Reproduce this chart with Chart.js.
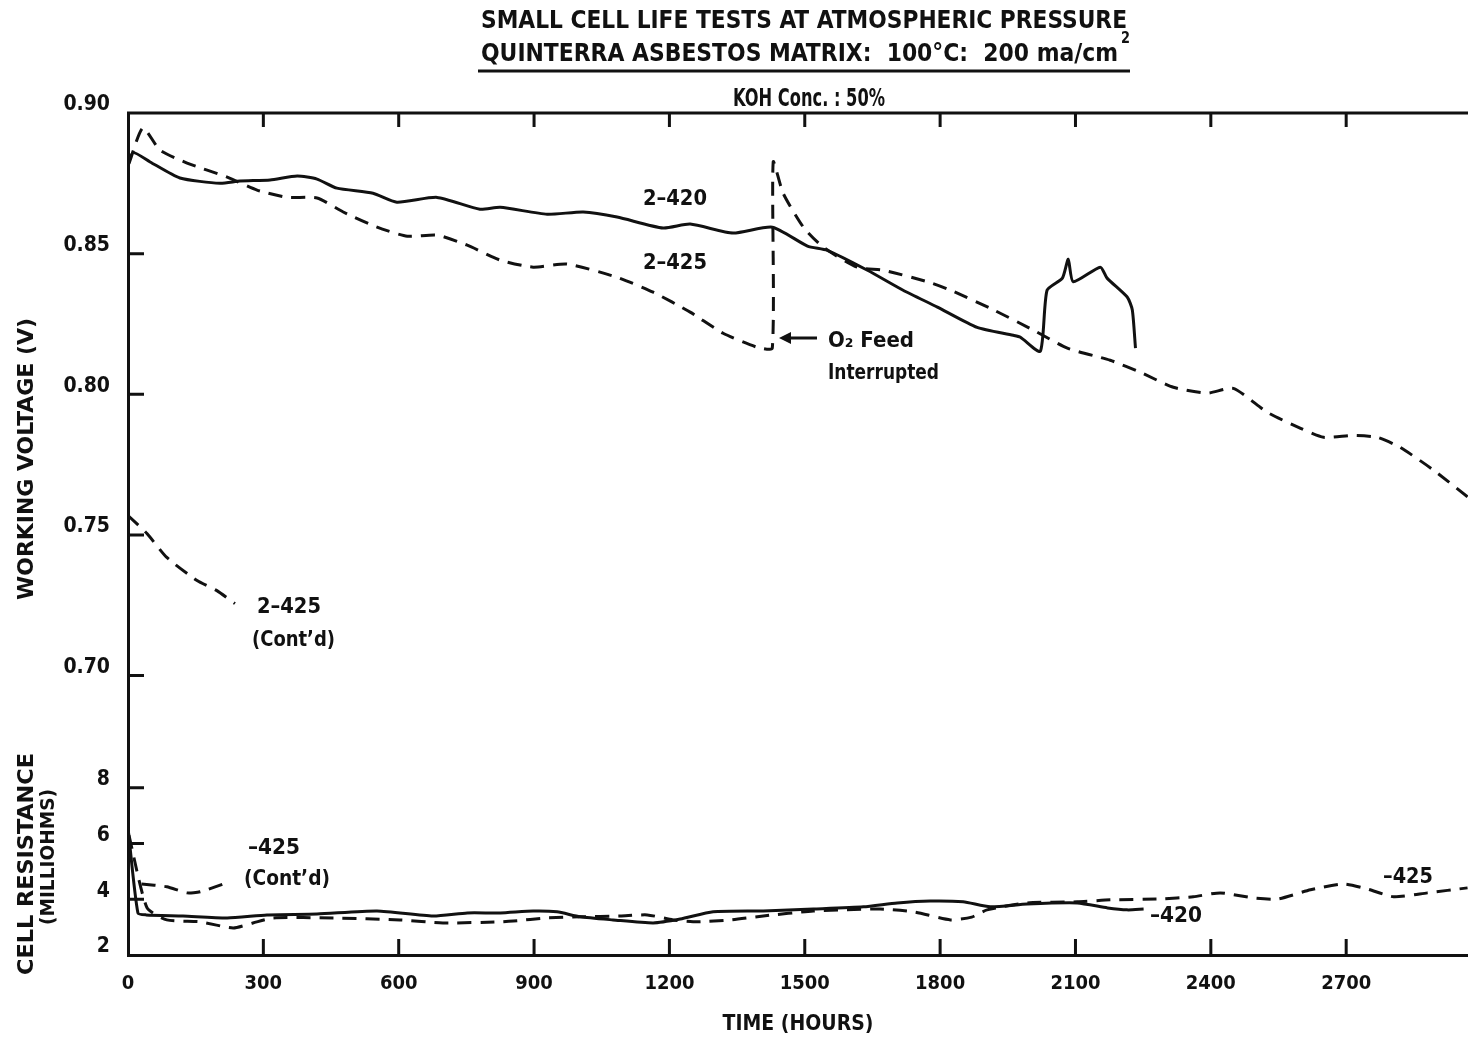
<!DOCTYPE html>
<html>
<head>
<meta charset="utf-8">
<title>Small cell life tests</title>
<script src="https://cdn.jsdelivr.net/npm/chart.js@4"></script>
<style>
  html, body { margin: 0; padding: 0; background: #fff; }
  canvas { display: block; }
</style>
</head>
<body>
<canvas id="lifeChart" width="1468" height="1041"></canvas>
<script>
const FONT = "'DejaVu Sans Condensed', 'Liberation Sans Narrow', 'DejaVu Sans', sans-serif";
const INK = "#111";

// tick labels
const hourTicks = [0, 300, 600, 900, 1200, 1500, 1800, 2100, 2400, 2700];
const voltTicks = [0.70, 0.75, 0.80, 0.85, 0.90];
const resTicks = [2, 4, 6, 8];

// 2-420 working voltage (solid)
const v420Hours = [0, 11, 49, 115, 204, 248, 315, 375, 419, 463, 543, 596, 685, 780, 825, 929, 1009, 1084, 1186, 1246, 1341, 1428, 1506, 1550, 1639, 1718, 1794, 1882, 1962, 1978, 2022, 2037, 2071, 2084, 2095, 2155, 2170, 2215, 2226, 2233];
const v420Volts = [0.8815, 0.886, 0.8826, 0.8769, 0.875, 0.8758, 0.8762, 0.8776, 0.8765, 0.8733, 0.8715, 0.8683, 0.870, 0.8658, 0.8665, 0.864, 0.8648, 0.863, 0.8591, 0.8605, 0.8573, 0.8594, 0.8527, 0.8512, 0.8441, 0.837, 0.831, 0.8238, 0.821, 0.8203, 0.8153, 0.837, 0.8413, 0.848, 0.840, 0.8452, 0.8413, 0.8345, 0.830, 0.8164];

// 2-425 working voltage (dashed)
const v425Hours = [2, 33, 71, 131, 220, 286, 353, 419, 477, 552, 619, 685, 752, 825, 898, 973, 1084, 1164, 1246, 1319, 1395, 1428, 1430, 1452, 1497, 1541, 1616, 1674, 1772, 1823, 1911, 2007, 2082, 2177, 2244, 2317, 2392, 2450, 2525, 2599, 2650, 2716, 2769, 2820, 2894, 2971];
const v425Volts = [0.882, 0.8947, 0.8868, 0.8822, 0.8772, 0.8726, 0.870, 0.8698, 0.8648, 0.8594, 0.8562, 0.8566, 0.853, 0.8477, 0.8452, 0.8463, 0.8416, 0.8363, 0.8292, 0.8217, 0.8167, 0.8164, 0.8826, 0.8715, 0.8594, 0.8523, 0.8452, 0.8441, 0.840, 0.837, 0.8306, 0.8228, 0.8164, 0.8121, 0.8078, 0.8025, 0.8004, 0.8021, 0.7936, 0.7879, 0.7847, 0.7854, 0.7847, 0.7811, 0.773, 0.7633];

// 2-425 continued, plotted from zero again
const v425bHours = [0, 42, 86, 153, 197, 237];
const v425bVolts = [0.7569, 0.7505, 0.742, 0.7338, 0.7302, 0.7256];

// cell resistance -420 (solid)
const r420Hours = [0, 22, 40, 122, 220, 308, 419, 552, 676, 752, 825, 898, 951, 1002, 1075, 1164, 1224, 1297, 1408, 1519, 1630, 1705, 1778, 1851, 1911, 1993, 2104, 2171, 2215, 2251];
const r420Ohms = [6.57, 3.51, 3.44, 3.40, 3.33, 3.44, 3.47, 3.58, 3.40, 3.51, 3.51, 3.58, 3.55, 3.37, 3.26, 3.15, 3.29, 3.55, 3.58, 3.65, 3.73, 3.87, 3.94, 3.91, 3.73, 3.83, 3.87, 3.69, 3.62, 3.65];

// cell resistance -425 (dashed)
const r425Hours = [2, 42, 86, 160, 233, 277, 322, 455, 603, 698, 825, 854, 929, 1002, 1091, 1151, 1208, 1262, 1335, 1408, 1519, 1667, 1741, 1823, 1870, 1904, 1993, 2104, 2177, 2288, 2361, 2421, 2494, 2548, 2621, 2694, 2747, 2805, 2880, 2969];
const r425Ohms = [6.3, 3.7, 3.26, 3.19, 2.97, 3.15, 3.33, 3.33, 3.26, 3.15, 3.19, 3.22, 3.33, 3.37, 3.40, 3.44, 3.26, 3.19, 3.26, 3.40, 3.58, 3.65, 3.55, 3.26, 3.36, 3.62, 3.87, 3.91, 3.98, 4.01, 4.09, 4.23, 4.05, 4.01, 4.34, 4.55, 4.37, 4.09, 4.23, 4.41];

// cell resistance -425 continued
const r425bHours = [30, 86, 131, 160, 226];
const r425bOhms = [4.55, 4.45, 4.23, 4.27, 4.63];

const toPoints = (xs, ys) => xs.map((h, i) => ({ x: h, y: ys[i] }));

function fitText(ctx, text, left, cy, width, size, angle) {
    ctx.save();
    ctx.font = `bold ${size}px ${FONT}`;
    const m = ctx.measureText(text).width;
    ctx.translate(left, cy);
    if (angle) ctx.rotate(angle);
    ctx.scale(width / m, 1);
    ctx.textAlign = "left";
    ctx.textBaseline = "alphabetic";
    ctx.fillText(text, 0, size * 0.365);
    ctx.restore();
}

/* titles, notes and inward tick marks */
const decorations = {
    id: "decorations",
    afterDraw(chart) {
        const { ctx, chartArea: a, scales } = chart;
        const x = scales.x, yV = scales.yV, yR = scales.yR;
        ctx.save();
        ctx.fillStyle = INK;
        ctx.strokeStyle = INK;
        ctx.lineWidth = 3;

        ctx.beginPath();
        ctx.moveTo(a.left - 1, a.top);
        ctx.lineTo(a.right, a.top);
        hourTicks.slice(1).forEach(h => {
            const px = x.getPixelForValue(h);
            ctx.moveTo(px, a.bottom);
            ctx.lineTo(px, a.bottom - 16);
            ctx.moveTo(px, a.top);
            ctx.lineTo(px, a.top + 14);
        });
        voltTicks.slice(0, -1).forEach(v => {
            const py = yV.getPixelForValue(v);
            ctx.moveTo(a.left, py);
            ctx.lineTo(a.left + 16, py);
        });
        resTicks.slice(1).forEach(r => {
            const py = yR.getPixelForValue(r);
            ctx.moveTo(a.left, py);
            ctx.lineTo(a.left + 16, py);
        });
        // header underline
        ctx.moveTo(478, 71);
        ctx.lineTo(1130, 71);
        // arrow shaft
        ctx.moveTo(788, 338);
        ctx.lineTo(817, 338);
        ctx.stroke();

        ctx.beginPath();
        ctx.moveTo(779, 338);
        ctx.lineTo(791, 332);
        ctx.lineTo(791, 344);
        ctx.closePath();
        ctx.fill();

        // header
        fitText(ctx, "SMALL CELL LIFE TESTS AT ATMOSPHERIC PRESSURE", 481, 19, 646, 25);
        fitText(ctx, "QUINTERRA ASBESTOS MATRIX:  100\u00b0C:  200 ma/cm", 481, 52, 637, 25);
        fitText(ctx, "2", 1121, 37, 9, 16);
        fitText(ctx, "KOH Conc. : 50%", 733, 97, 152, 24);

        // axis titles
        fitText(ctx, "WORKING VOLTAGE (V)", 25, 600, 282, 21, -Math.PI / 2);
        fitText(ctx, "CELL RESISTANCE", 25, 975, 222, 21, -Math.PI / 2);
        fitText(ctx, "(MILLIOHMS)", 47, 925, 136, 19, -Math.PI / 2);

        // curve notes
        fitText(ctx, "2\u2013420", 643, 197, 64, 21);
        fitText(ctx, "2\u2013425", 643, 261, 64, 21);
        fitText(ctx, "O\u2082 Feed", 828, 339, 86, 21);
        fitText(ctx, "Interrupted", 828, 371, 111, 21);
        fitText(ctx, "2\u2013425", 257, 605, 64, 21);
        fitText(ctx, "(Cont\u2019d)", 252, 638, 83, 21);
        fitText(ctx, "\u2013425", 248, 846, 52, 21);
        fitText(ctx, "(Cont\u2019d)", 244, 877, 86, 21);
        fitText(ctx, "\u2013420", 1150, 914, 52, 21);
        fitText(ctx, "\u2013425", 1383, 875, 50, 21);
        ctx.restore();
    }
};

const solid = { borderColor: INK, borderWidth: 3, pointRadius: 0, tension: 0.2, fill: false };
const dashed = { ...solid, borderDash: [14, 9] };

const ctx = document.getElementById("lifeChart");

const chart = new Chart(ctx, {
    type: "line",
    data: {
        datasets: [
            { ...solid, label: "2-420", data: toPoints(v420Hours, v420Volts), yAxisID: "yV" },
            { ...dashed, label: "2-425", data: toPoints(v425Hours, v425Volts), yAxisID: "yV" },
            { ...dashed, label: "2-425 (Cont'd)", data: toPoints(v425bHours, v425bVolts), yAxisID: "yV" },
            { ...solid, label: "-420", data: toPoints(r420Hours, r420Ohms), yAxisID: "yR" },
            { ...dashed, label: "-425", data: toPoints(r425Hours, r425Ohms), yAxisID: "yR" },
            { ...dashed, label: "-425 (Cont'd)", data: toPoints(r425bHours, r425bOhms), yAxisID: "yR" }
        ]
    },
    options: {
        responsive: false,
        animation: false,
        devicePixelRatio: 1,
        layout: { padding: { top: 113, right: 0, bottom: 0, left: 0 } },
        plugins: {
            legend: { display: false },
            tooltip: { enabled: false }
        },
        font: { family: FONT },
        scales: {
            x: {
                type: "linear",
                position: "bottom",
                min: 0,
                max: 2970,
                grid: { display: false },
                border: { display: true, color: INK, width: 3 },
                afterBuildTicks: s => { s.ticks = hourTicks.map(v => ({ value: v })); },
                afterFit: s => { s.height = 86; },
                ticks: {
                    color: INK,
                    padding: 9,
                    maxRotation: 0,
                    autoSkip: false,
                    callback: v => String(v),
                    font: { family: FONT, size: 20, weight: "bold" }
                },
                title: {
                    display: true,
                    text: "TIME (HOURS)",
                    color: INK,
                    padding: { top: 0, bottom: 4 },
                    font: { family: FONT, size: 21, weight: "bold" }
                }
            },
            yR: {
                type: "linear",
                position: "left",
                stack: "left",
                stackWeight: 195,
                weight: 1,
                min: 2,
                max: 9,
                grid: { display: false },
                border: { display: true, color: INK, width: 3 },
                afterBuildTicks: s => { s.ticks = resTicks.map(v => ({ value: v })); },
                afterFit: s => { s.width = 128; },
                ticks: {
                    color: INK,
                    padding: 10,
                    labelOffset: -8,
                    font: { family: FONT, size: 21, weight: "bold" }
                }
            },
            yV: {
                type: "linear",
                position: "left",
                stack: "left",
                stackWeight: 647,
                weight: 2,
                min: 0.67,
                max: 0.90,
                grid: { display: false },
                border: { display: true, color: INK, width: 3 },
                afterBuildTicks: s => { s.ticks = voltTicks.map(v => ({ value: v })); },
                afterFit: s => { s.width = 128; },
                ticks: {
                    color: INK,
                    padding: 10,
                    labelOffset: -8,
                    callback: v => v.toFixed(2),
                    font: { family: FONT, size: 21, weight: "bold" }
                }
            }
        }
    },
    plugins: [decorations]
});
</script>
</body>
</html>
